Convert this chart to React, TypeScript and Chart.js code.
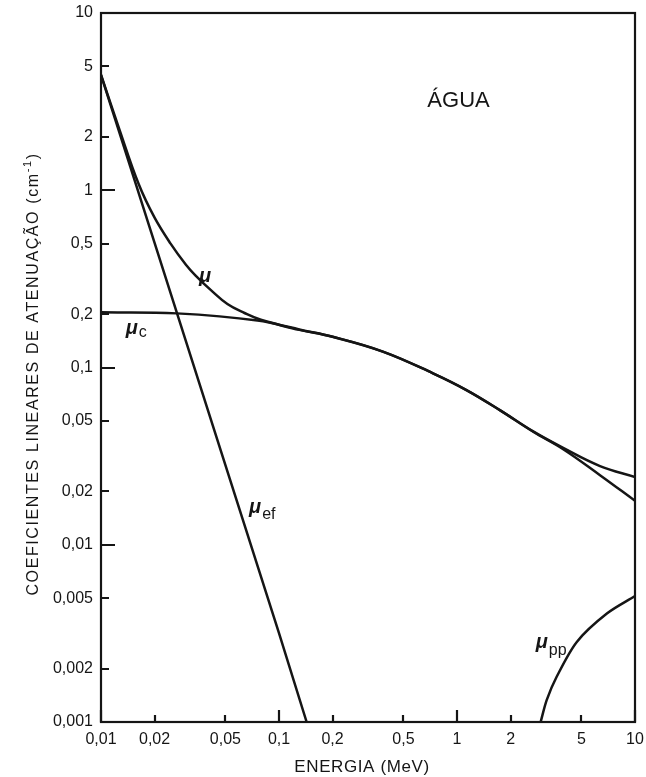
import React, { useEffect, useRef } from "react";
import { Chart, registerables } from "chart.js";

Chart.register(...registerables);

// Axis ticks
const xTickValues = [0.01, 0.02, 0.05, 0.1, 0.2, 0.5, 1, 2, 5, 10];
const yTickValues = [0.001, 0.002, 0.005, 0.01, 0.02, 0.05, 0.1, 0.2, 0.5, 1, 2, 5, 10];

// μ (total attenuation)
const energyTotal = [0.01, 0.0126, 0.0163, 0.02, 0.0246, 0.03, 0.034, 0.0413, 0.0513, 0.064, 0.0791, 0.13, 0.2, 0.383, 0.733, 1.13, 1.74, 2.68, 3.95, 6.36, 10];
const muTotal = [4.48, 2.25, 1.08, 0.7, 0.5, 0.38, 0.33, 0.274, 0.228, 0.203, 0.186, 0.164, 0.149, 0.123, 0.0927, 0.0746, 0.0575, 0.0436, 0.0352, 0.0278, 0.0241];

// μc (Compton)
const energyCompton = [0.01, 0.0266, 0.0757, 0.13, 0.2, 0.383, 0.733, 1.13, 1.74, 2.68, 3.95, 6.36, 10];
const muCompton = [0.205, 0.202, 0.184, 0.163, 0.149, 0.123, 0.0927, 0.0746, 0.0575, 0.0434, 0.0346, 0.0247, 0.0177];

// μef (photoelectric)
const energyPhoto = [0.01, 0.02, 0.05, 0.1, 0.143];
const muPhoto = [4.48, 0.505, 0.0281, 0.00317, 0.001];

// μpp (pair production)
const energyPair = [2.95, 3.19, 3.63, 4.71, 6.95, 10];
const muPair = [0.001, 0.00133, 0.0018, 0.00283, 0.00409, 0.00513];

// Curve labels anchored in data coordinates (energy, coefficient)
const curveLabels = [
  { main: "μ", sub: "", energy: 0.0355, value: 0.304, subDrop: 0 },
  { main: "μ", sub: "c", energy: 0.01377, value: 0.1545, subDrop: 3 },
  { main: "μ", sub: "ef", energy: 0.0679, value: 0.01507, subDrop: 6 },
  { main: "μ", sub: "pp", energy: 2.77, value: 0.0026, subDrop: 7 },
];
const materialLabel = { text: "ÁGUA", energy: 1.02, value: 2.96 };

const xTitle = "ENERGIA (MeV)";
const yTitleMain = "COEFICIENTES LINEARES DE ATENUAÇÃO (cm";
const yTitleSup = "-1";
const yTitleEnd = ")";

const FONT = "'Liberation Sans', Arial, sans-serif";
const INK = "#151515";

const fmt = (v: number) => String(v).replace(".", ",");
const isDecade = (v: number) => Math.abs(Math.log10(v) - Math.round(Math.log10(v))) < 1e-6;

const toPoints = (xs: number[], ys: number[]) => xs.map((x, i) => ({ x, y: ys[i] }));

const zeroPadding = (s: any) => {
  s.paddingTop = 0;
  s.paddingBottom = 0;
  s.paddingLeft = 0;
  s.paddingRight = 0;
};

const decorPlugin = {
  id: "decor",
  afterDraw(chart: any) {
    const { ctx, chartArea: a, scales } = chart;
    const xs = scales.x;
    const ys = scales.y;
    ctx.save();
    ctx.strokeStyle = INK;
    ctx.lineWidth = 2.2;
    ctx.strokeRect(a.left, a.top, a.right - a.left, a.bottom - a.top);
    ctx.beginPath();
    for (const v of yTickValues) {
      const p = Math.round(ys.getPixelForValue(v));
      const len = isDecade(v) ? 14 : 8;
      ctx.moveTo(a.left, p);
      ctx.lineTo(a.left + len, p);
    }
    for (const v of xTickValues) {
      const p = Math.round(xs.getPixelForValue(v));
      const len = isDecade(v) ? 12 : 7;
      ctx.moveTo(p, a.bottom);
      ctx.lineTo(p, a.bottom - len);
    }
    ctx.stroke();

    ctx.fillStyle = INK;
    ctx.textBaseline = "alphabetic";
    // curve labels
    for (const l of curveLabels) {
      const x = xs.getPixelForValue(l.energy);
      const y = ys.getPixelForValue(l.value);
      ctx.font = `italic bold 20px ${FONT}`;
      ctx.textAlign = "left";
      ctx.fillText(l.main, x, y);
      const w = ctx.measureText(l.main).width;
      if (l.sub) {
        ctx.font = `16px ${FONT}`;
        ctx.fillText(l.sub, x + w + 1, y + l.subDrop);
      }
    }
    // material label
    ctx.font = `22px ${FONT}`;
    ctx.textAlign = "center";
    ctx.fillText(materialLabel.text, xs.getPixelForValue(materialLabel.energy), ys.getPixelForValue(materialLabel.value));

    // x title
    ctx.font = `17px ${FONT}`;
    (ctx as any).letterSpacing = "0.6px";
    ctx.textAlign = "center";
    ctx.fillText(xTitle, 362, 772);

    // y title
    ctx.translate(38, 374);
    ctx.rotate(-Math.PI / 2);
    (ctx as any).letterSpacing = "1.6px";
    ctx.font = `16px ${FONT}`;
    const w1 = ctx.measureText(yTitleMain).width;
    ctx.font = `11px ${FONT}`;
    const w2 = ctx.measureText(yTitleSup).width;
    ctx.font = `16px ${FONT}`;
    const w3 = ctx.measureText(yTitleEnd).width;
    const total = w1 + w2 + w3;
    let cx = -total / 2;
    ctx.textAlign = "left";
    ctx.fillText(yTitleMain, cx, 0);
    cx += w1;
    ctx.font = `11px ${FONT}`;
    ctx.fillText(yTitleSup, cx, -7);
    cx += w2;
    ctx.font = `16px ${FONT}`;
    ctx.fillText(yTitleEnd, cx, 0);
    ctx.restore();
  },
};

export default function App() {
  const canvasRef = useRef<HTMLCanvasElement | null>(null);

  useEffect(() => {
    if (!canvasRef.current) return;
    const lineStyle = {
      borderColor: INK,
      borderWidth: 2.5,
      pointRadius: 0,
      fill: false,
      tension: 0.4,
    };
    const chart = new Chart(canvasRef.current, {
      type: "line",
      data: {
        datasets: [
          { label: "μ", data: toPoints(energyTotal, muTotal), ...lineStyle },
          { label: "μc", data: toPoints(energyCompton, muCompton), ...lineStyle },
          { label: "μef", data: toPoints(energyPhoto, muPhoto), ...lineStyle, tension: 0 },
          { label: "μpp", data: toPoints(energyPair, muPair), ...lineStyle, tension: 0.3 },
        ],
      },
      options: {
        responsive: false,
        animation: false,
        events: [],
        layout: { padding: { left: 0, right: 11, top: 13, bottom: 0 } },
        plugins: { legend: { display: false }, tooltip: { enabled: false } },
        scales: {
          x: {
            type: "logarithmic",
            min: 0.01,
            max: 10,
            afterBuildTicks: (s: any) => {
              s.ticks = xTickValues.map((v) => ({ value: v }));
            },
            afterFit: (s: any) => {
              s.height = 55;
              zeroPadding(s);
            },
            grid: { display: false, drawTicks: false },
            border: { display: false },
            ticks: {
              autoSkip: false,
              maxRotation: 0,
              minRotation: 0,
              padding: 8,
              color: INK,
              font: { family: FONT, size: 16 },
              callback: (v: any) => fmt(Number(v)),
            },
          },
          y: {
            type: "logarithmic",
            min: 0.001,
            max: 10,
            afterBuildTicks: (s: any) => {
              s.ticks = yTickValues.map((v) => ({ value: v }));
            },
            afterFit: (s: any) => {
              s.width = 101;
              zeroPadding(s);
            },
            grid: { display: false, drawTicks: false },
            border: { display: false },
            ticks: {
              autoSkip: false,
              padding: 8,
              color: INK,
              font: { family: FONT, size: 16 },
              callback: (v: any) => fmt(Number(v)),
            },
          },
        },
      },
      plugins: [decorPlugin],
    });
    return () => chart.destroy();
  }, []);

  return (
    <div style={{ position: "fixed", left: 0, top: 0, width: 646, height: 777, background: "#fff" }}>
      <canvas ref={canvasRef} width={646} height={777} style={{ display: "block" }} />
    </div>
  );
}
